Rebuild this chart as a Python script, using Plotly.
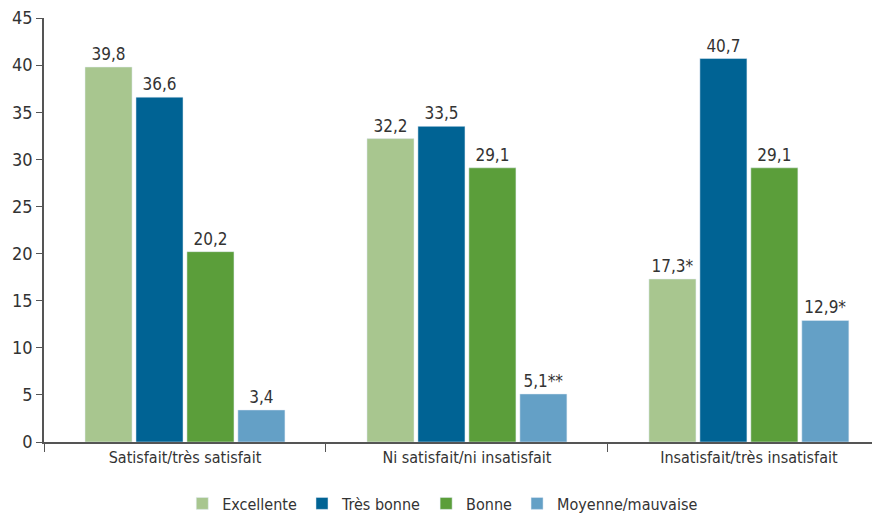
import plotly.graph_objects as go

categories = ["Satisfait/très satisfait", "Ni satisfait/ni insatisfait", "Insatisfait/très insatisfait"]
series_names = ["Excellente", "Très bonne", "Bonne", "Moyenne/mauvaise"]
excellente = [39.8, 32.2, 17.3]
tres_bonne = [36.6, 33.5, 40.7]
bonne = [20.2, 29.1, 29.1]
moyenne = [3.4, 5.1, 12.9]
excellente_labels = ["39,8", "32,2", "17,3*"]
tres_bonne_labels = ["36,6", "33,5", "40,7"]
bonne_labels = ["20,2", "29,1", "29,1"]
moyenne_labels = ["3,4", "5,1**", "12,9*"]
y_ticks = [0, 5, 10, 15, 20, 25, 30, 35, 40, 45]

colors = ["#A8C68F", "#006394", "#5B9E3A", "#64A0C6"]
FONT = "DejaVu Sans Condensed, Roboto, sans-serif"
TXT = "#333333"

fig = go.Figure()
for name, vals, labs, col in zip(series_names,
                                 [excellente, tres_bonne, bonne, moyenne],
                                 [excellente_labels, tres_bonne_labels, bonne_labels, moyenne_labels],
                                 colors):
    fig.add_trace(go.Bar(
        x=categories, y=vals, name=name, marker_color=col,
        text=labs, textposition="outside", cliponaxis=False,
        textfont=dict(family=FONT, size=17, color=TXT),
    ))

fig.update_layout(
    width=872, height=507,
    margin=dict(l=36, r=0, t=10, b=73, autoexpand=False),
    paper_bgcolor="white", plot_bgcolor="white",
    barmode="group", bargap=0.277, bargroupgap=0.077,
    font=dict(family=FONT, size=16, color=TXT),
    showlegend=True,
    legend=dict(orientation="h", x=0.477, xanchor="center", y=-0.145, yanchor="middle",
                font=dict(family=FONT, size=16, color=TXT),
                itemwidth=30, traceorder="normal"),
)
fig.update_xaxes(
    range=[-0.5, 2.465], showline=True, linecolor="#555555", linewidth=1.5,
    ticks="outside", tickson="boundaries", ticklen=8, tickcolor="#555555",
    tickfont=dict(family=FONT, size=16, color=TXT), showgrid=False, automargin=False,
)
fig.update_yaxes(
    range=[0, 45], tickvals=y_ticks, showline=True, linecolor="#555555", linewidth=1.5,
    ticks="outside", ticklen=6, tickcolor="#555555", showgrid=False, zeroline=False,
    tickfont=dict(family=FONT, size=18, color=TXT), automargin=False,
    ticklabeloverflow="allow",
)
fig.write_html("out.html")
